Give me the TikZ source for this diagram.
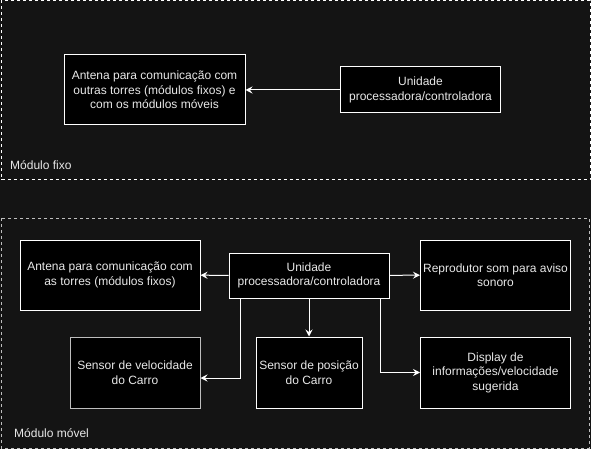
\documentclass[tikz,border=0pt]{standalone}
\usepackage{fontspec}
\setmainfont{Liberation Sans}
\usepackage{tikz}
\usetikzlibrary{arrows.meta}
\definecolor{fundo}{RGB}{20,20,20}
\definecolor{texto}{RGB}{232,232,232}
\definecolor{cinza}{RGB}{190,190,190}
\tikzstyle{caixa}=[draw=white,fill=black,text=texto,line width=1pt,inner sep=0pt,align=center,font=\fontsize{12}{14.5}\selectfont]
\tikzstyle{seta}=[draw=white,line width=1pt,-{Stealth[length=7pt,width=7pt,inset=2.5pt]}]
\tikzstyle{moldura}=[line width=1pt,dash pattern=on 3pt off 3pt]
\tikzstyle{rotulo}=[text=texto,anchor=west,inner sep=0pt,font=\fontsize{12}{14.5}\selectfont]

\begin{document}
\begin{tikzpicture}[x=1pt,y=-1pt]
    \fill [fundo] (0,0) rectangle (591,449);
    \useasboundingbox (0,0) rectangle (591,449);
    % modulo fixo
    \draw [moldura,white] (1,0.5) rectangle (590,180);
    \node [caixa,minimum width=181pt,minimum height=70pt] (antfixo) at (154.5,90) {Antena para comunicação com\\outras torres (módulos fixos) e\\com os módulos móveis};
    \node [caixa,minimum width=160pt,minimum height=46pt] (unidfixo) at (420.5,90) {Unidade\\processadora/controladora};
    \node [rotulo] (lblfixo) at (10,165) {Módulo fixo};
    \draw [seta] (unidfixo) -- (antfixo);
    % modulo movel
    \draw [moldura,cinza] (1,218) rectangle (589,448);
    \node [caixa,minimum width=180pt,minimum height=70pt] (antmovel) at (110,275) {Antena para comunicação com\\as torres (módulos fixos)};
    \node [caixa,minimum width=160pt,minimum height=45pt] (unidmovel) at (309,275.5) {Unidade\\processadora/controladora};
    \node [caixa,minimum width=150pt,minimum height=70pt] (som) at (495.5,275) {Reprodutor som para aviso\\sonoro};
    \node [caixa,draw=cinza,minimum width=130pt,minimum height=71pt] (veloc) at (135,372.5) {Sensor de velocidade\\do Carro};
    \node [caixa,minimum width=106pt,minimum height=71pt] (posic) at (309,372.5) {Sensor de posição\\do Carro};
    \node [caixa,minimum width=150pt,minimum height=71pt] (display) at (495.5,372.5) {Display de\\informações/velocidade\\sugerida};
    \node [rotulo] (lblmovel) at (14,433) {Módulo móvel};
    \draw [seta] (unidmovel) -- (antmovel);
    \draw [seta] (unidmovel) -- (som);
    \draw [seta] (unidmovel) -- (posic);
    \draw [seta] (unidmovel.south -| 240,0) |- ([yshift=-5.5pt]veloc.east);
    \draw [seta] (unidmovel.south -| 380,0) |- (display.west);
\end{tikzpicture}
\end{document}
